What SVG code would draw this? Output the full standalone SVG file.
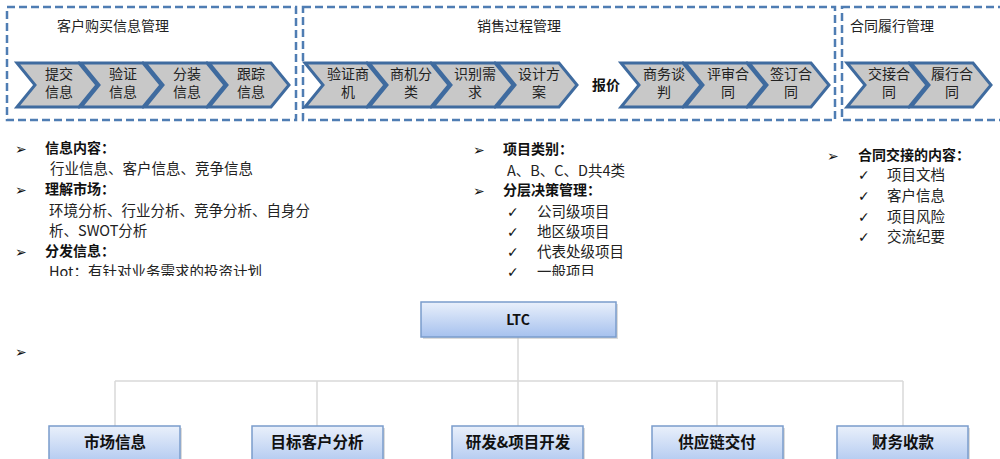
<svg xmlns="http://www.w3.org/2000/svg" width="1000" height="459" viewBox="0 0 1000 459">
<style>
.frame{fill:none;stroke:#4f7db3;stroke-width:2.5;stroke-dasharray:8 4}
.chev{fill:#c8c8c8;stroke:#3f6b9f;stroke-width:3;stroke-linejoin:miter}
.ct{font-family:"Noto Sans CJK SC","Liberation Sans",sans-serif;font-size:14px;fill:#222;text-anchor:middle}
.title{font-family:"Noto Sans CJK SC","Liberation Sans",sans-serif;font-size:14px;fill:#222}
.b{font-family:"Noto Sans CJK SC","Liberation Sans",sans-serif;font-size:14px;font-weight:bold;fill:#111}
.t{font-family:"Noto Sans CJK SC","Liberation Sans",sans-serif;font-size:14.5px;fill:#222}
.sym{font-family:"DejaVu Sans",sans-serif;font-size:14px;fill:#111}
.box{fill:url(#bg);stroke:#7a9ccc;stroke-width:1.5}
.shadow{fill:#b8b8b8;opacity:0.5}
.bt{font-family:"Noto Sans CJK SC","Liberation Sans",sans-serif;font-size:15.5px;font-weight:bold;fill:#111;text-anchor:middle}
.conn{fill:none;stroke:#d9d9d9;stroke-width:1.5}
</style>
<defs>
<linearGradient id="bg" x1="0" y1="0" x2="0" y2="1">
<stop offset="0" stop-color="#e9f0fb"/>
<stop offset="1" stop-color="#a6c1ee"/>
</linearGradient>
<path id="chv" d="M0,0 L62,0 L80,22 L62,44 L0,44 L18,22 Z"/>
<clipPath id="clipText"><rect x="0" y="0" width="1000" height="276"/></clipPath>
</defs>
<rect width="1000" height="459" fill="#fff"/>

<g id="frame-customer">
<rect class="frame" x="7" y="7" width="289" height="113"/>
<text class="title" x="57" y="31">客户购买信息管理</text>
<g class="chev"><use href="#chv" x="17" y="63"/><use href="#chv" x="81" y="63"/><use href="#chv" x="145" y="63"/><use href="#chv" x="209" y="63"/></g>
<text class="ct" x="59" y="79">提交</text><text class="ct" x="59" y="97">信息</text>
<text class="ct" x="123" y="79">验证</text><text class="ct" x="123" y="97">信息</text>
<text class="ct" x="187" y="79">分装</text><text class="ct" x="187" y="97">信息</text>
<text class="ct" x="251" y="79">跟踪</text><text class="ct" x="251" y="97">信息</text>
</g>

<g id="frame-sales">
<rect class="frame" x="303" y="7" width="532" height="113"/>
<text class="title" x="519" y="31" text-anchor="middle">销售过程管理</text>
<g class="chev"><use href="#chv" x="305" y="63"/><use href="#chv" x="369" y="63"/><use href="#chv" x="433" y="63"/><use href="#chv" x="497" y="63"/><use href="#chv" x="621" y="63"/><use href="#chv" x="685" y="63"/><use href="#chv" x="749" y="63"/></g>
<text class="ct" x="348" y="79">验证商</text><text class="ct" x="348" y="97">机</text>
<text class="ct" x="411" y="79">商机分</text><text class="ct" x="411" y="97">类</text>
<text class="ct" x="475" y="79">识别需</text><text class="ct" x="475" y="97">求</text>
<text class="ct" x="539" y="79">设计方</text><text class="ct" x="539" y="97">案</text>
<text class="b" x="606" y="90" text-anchor="middle">报价</text>
<text class="ct" x="664" y="79">商务谈</text><text class="ct" x="664" y="97">判</text>
<text class="ct" x="728" y="79">评审合</text><text class="ct" x="728" y="97">同</text>
<text class="ct" x="791" y="79">签订合</text><text class="ct" x="791" y="97">同</text>
</g>

<g id="frame-contract">
<rect class="frame" x="842" y="7" width="170" height="113"/>
<text class="title" x="850" y="31">合同履行管理</text>
<g class="chev"><use href="#chv" x="847" y="63"/><use href="#chv" x="911" y="63"/></g>
<text class="ct" x="889" y="79">交接合</text><text class="ct" x="889" y="97">同</text>
<text class="ct" x="952" y="79">履行合</text><text class="ct" x="952" y="97">同</text>
</g>

<g id="notes-left" clip-path="url(#clipText)">
<text class="sym" x="15" y="154">➢</text>
<text class="b" x="45" y="153">信息内容：</text>
<text class="t" x="50" y="174">行业信息、客户信息、竞争信息</text>
<text class="sym" x="15" y="195">➢</text>
<text class="b" x="45" y="194">理解市场：</text>
<text class="t" x="49" y="216">环境分析、行业分析、竞争分析、自身分</text>
<text class="t" x="49" y="236">析、SWOT分析</text>
<text class="sym" x="15" y="257">➢</text>
<text class="b" x="45" y="256">分发信息：</text>
<text class="t" x="49" y="277">Hot：有针对业务需求的投资计划</text>
</g>

<g id="notes-middle" clip-path="url(#clipText)">
<text class="sym" x="473" y="155">➢</text>
<text class="b" x="503" y="154">项目类别：</text>
<text class="t" x="507" y="176">A、B、C、D共4类</text>
<text class="sym" x="473" y="196">➢</text>
<text class="b" x="503" y="195">分层决策管理：</text>
<text class="sym" x="507" y="217">✓</text><text class="t" x="537" y="217">公司级项目</text>
<text class="sym" x="507" y="237">✓</text><text class="t" x="537" y="237">地区级项目</text>
<text class="sym" x="507" y="257">✓</text><text class="t" x="537" y="257">代表处级项目</text>
<text class="sym" x="507" y="277">✓</text><text class="t" x="537" y="277">一般项目</text>
</g>

<g id="notes-right">
<text class="sym" x="827" y="161">➢</text>
<text class="b" x="858" y="160">合同交接的内容：</text>
<text class="sym" x="858" y="180">✓</text><text class="t" x="887" y="180">项目文档</text>
<text class="sym" x="858" y="201">✓</text><text class="t" x="887" y="201">客户信息</text>
<text class="sym" x="858" y="222">✓</text><text class="t" x="887" y="222">项目风险</text>
<text class="sym" x="858" y="242">✓</text><text class="t" x="887" y="242">交流纪要</text>
</g>

<text class="sym" x="15" y="357">➢</text>

<g id="connectors">
<path class="conn" d="M518,337 V381 M115,381 H903 M115,381 V426 M317,381 V426 M518,381 V426 M717,381 V426 M903,381 V426"/>
</g>

<g id="node-ltc">
<rect class="shadow" x="423" y="304" width="195" height="35"/>
<rect class="box" x="421" y="302" width="195" height="35"/>
<text class="bt" x="518" y="325" style="font-size:14px">LTC</text>
</g>
<g id="node-market">
<rect class="shadow" x="51" y="428" width="131" height="45"/>
<rect class="box" x="49" y="426" width="131" height="45"/>
<text class="bt" x="115" y="448">市场信息</text>
</g>
<g id="node-target">
<rect class="shadow" x="254" y="428" width="131" height="45"/>
<rect class="box" x="252" y="426" width="131" height="45"/>
<text class="bt" x="317" y="448">目标客户分析</text>
</g>
<g id="node-rd">
<rect class="shadow" x="454" y="428" width="131" height="45"/>
<rect class="box" x="452" y="426" width="131" height="45"/>
<text class="bt" x="518" y="448">研发&amp;项目开发</text>
</g>
<g id="node-supply">
<rect class="shadow" x="654" y="428" width="131" height="45"/>
<rect class="box" x="652" y="426" width="131" height="45"/>
<text class="bt" x="717" y="448">供应链交付</text>
</g>
<g id="node-finance">
<rect class="shadow" x="839" y="428" width="131" height="45"/>
<rect class="box" x="837" y="426" width="131" height="45"/>
<text class="bt" x="903" y="448">财务收款</text>
</g>
</svg>
